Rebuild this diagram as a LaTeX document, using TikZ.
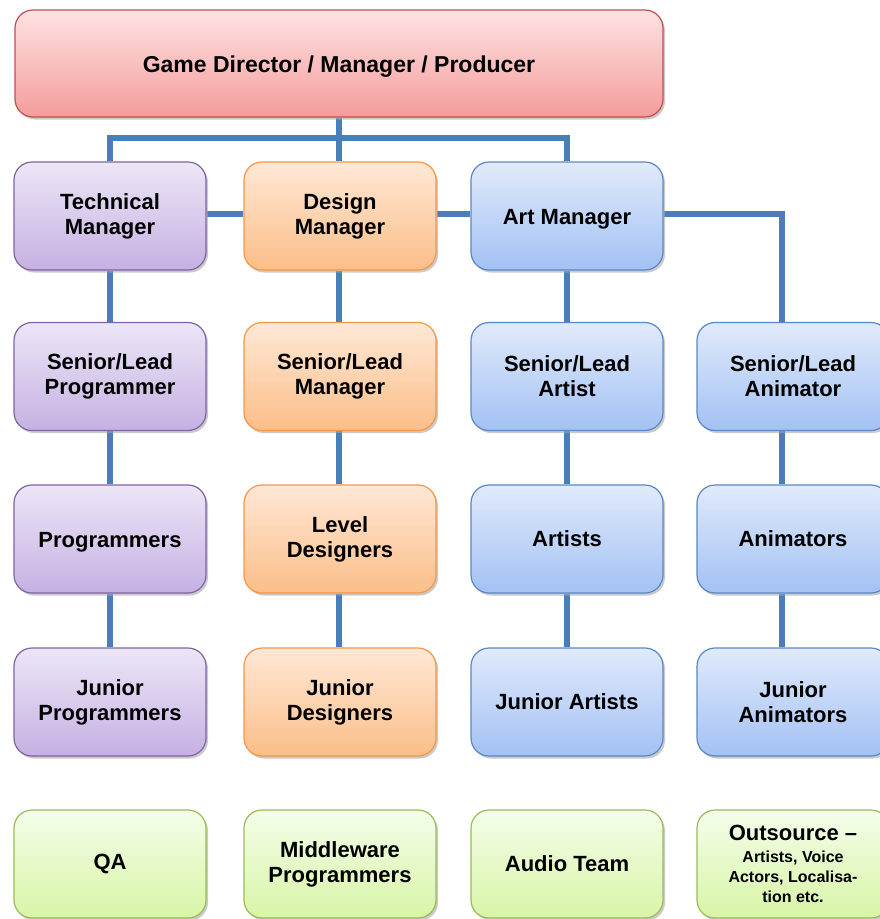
\documentclass[tikz,border=0pt]{standalone}
\usepackage{fontspec}
\setmainfont{Liberation Sans}
\usetikzlibrary{shadows,backgrounds}

% Fill colours (top / bottom) and outlines per department
\definecolor{redT}{HTML}{FEE2E2}\definecolor{redB}{HTML}{F59C9C}\definecolor{redD}{HTML}{C0504D}
\definecolor{purT}{HTML}{ECE6F7}\definecolor{purB}{HTML}{C5B1E2}\definecolor{purD}{HTML}{8064A2}
\definecolor{oraT}{HTML}{FFE8D6}\definecolor{oraB}{HTML}{FBBE88}\definecolor{oraD}{HTML}{F79646}
\definecolor{bluT}{HTML}{E0EAFB}\definecolor{bluB}{HTML}{A3C1F4}\definecolor{bluD}{HTML}{5B87C5}
\definecolor{griT}{HTML}{F4FDEA}\definecolor{griB}{HTML}{D8F5A6}\definecolor{griD}{HTML}{9BBB59}
\definecolor{link}{HTML}{4A7EBB}

\newcommand\finetext{\fontsize{16pt}{19.5pt}\selectfont}
% single-line labels with descenders: drawn a little lower, box size unchanged
\newcommand\oneline[1]{\raisebox{-3pt}[\height][\depth]{#1}}

\tikzset{
  box/.style={rounded corners=18pt, minimum width=192pt, minimum height=108pt,
    line width=1.2pt, align=center, inner sep=0pt,
    font=\fontsize{22pt}{25pt}\selectfont\bfseries,
    drop shadow={shadow xshift=2pt, shadow yshift=-2.5pt, fill=black!35, opacity=0.6}},
  redbox/.style={box, top color=redT, bottom color=redB, draw=redD},
  purbox/.style={box, top color=purT, bottom color=purB, draw=purD},
  orabox/.style={box, top color=oraT, bottom color=oraB, draw=oraD},
  blubox/.style={box, top color=bluT, bottom color=bluB, draw=bluD},
  gribox/.style={box, top color=griT, bottom color=griB, draw=griD},
  conn/.style={draw=link, line width=5.6pt}
}

\begin{document}
\begin{tikzpicture}[x=1pt,y=-1pt]
\useasboundingbox (0,0) rectangle (879,919);

% Boxes
\node[redbox, minimum width=648pt, minimum height=107pt,
      font=\fontsize{23pt}{26pt}\selectfont\bfseries] (dir) at (339,63.5) {\oneline{Game Director / Manager / Producer}};

\node[purbox] (tech) at (110,216) {Technical\\Manager};
\node[orabox] (des)  at (340,216) {Design\\Manager};
\node[blubox] (art)  at (567,216) {\oneline{Art Manager}};

\node[purbox] (sprog) at (110,376.5) {Senior/Lead\\Programmer};
\node[orabox] (sman)  at (340,376.5) {Senior/Lead\\Manager};
\node[blubox] (sart)  at (567,376.5) {Senior/Lead\\Artist};
\node[blubox] (sanim) at (793,376.5) {Senior/Lead\\Animator};

\node[purbox] (prog)  at (110,539) {\oneline{Programmers}};
\node[orabox] (level) at (340,539) {Level\\Designers};
\node[blubox] (arts)  at (567,539) {Artists};
\node[blubox] (anim)  at (793,539) {Animators};

\node[purbox] (jprog) at (110,702) {Junior\\Programmers};
\node[orabox] (jdes)  at (340,702) {Junior\\Designers};
\node[blubox] (jart)  at (567,702) {Junior Artists};
\node[blubox] (janim) at (793,702) {Junior\\Animators};

\node[gribox] (qa)   at (110,864) {QA};
\node[gribox] (mid)  at (340,864) {Middleware\\Programmers};
\node[gribox] (aud)  at (567,864) {Audio Team};
\node[gribox] (out)  at (793,864) {Outsource --\\[-3pt]{\finetext Artists, Voice}\\[-5pt]{\finetext Actors, Localisa-}\\[-5pt]{\finetext tion etc.}};

% Connectors, kept behind the boxes
\coordinate (busL) at (110,138);
\coordinate (busM) at (339,138);
\coordinate (busR) at (567,138);
\coordinate (turn) at (782,214);
\begin{scope}[on background layer]
  % director to the three managers
  \draw[conn] (dir.south -| busM) -- (busM);
  \draw[conn] (tech.north) -- (busL) -- (busR) -- (art.north);
  \draw[conn] (busM) -- (busM |- des.north);
  % managers linked side by side, art manager on to the animators
  \draw[conn] (tech.east |- turn) -- (des.west |- turn);
  \draw[conn] (des.east |- turn) -- (art.west |- turn);
  \draw[conn] (art.east |- turn) -- (turn) -- (turn |- sanim.north);
  % programming line
  \draw[conn] (tech) -- (sprog);
  \draw[conn] (sprog) -- (prog);
  \draw[conn] (prog) -- (jprog);
  % design line
  \draw[conn] (des.south -| busM) -- (busM |- sman.north);
  \draw[conn] (sman.south -| busM) -- (busM |- level.north);
  \draw[conn] (level.south -| busM) -- (busM |- jdes.north);
  % art line
  \draw[conn] (art) -- (sart);
  \draw[conn] (sart) -- (arts);
  \draw[conn] (arts) -- (jart);
  % animation line
  \draw[conn] (sanim.south -| turn) -- (turn |- anim.north);
  \draw[conn] (anim.south -| turn) -- (turn |- janim.north);
\end{scope}
\end{tikzpicture}
\end{document}
